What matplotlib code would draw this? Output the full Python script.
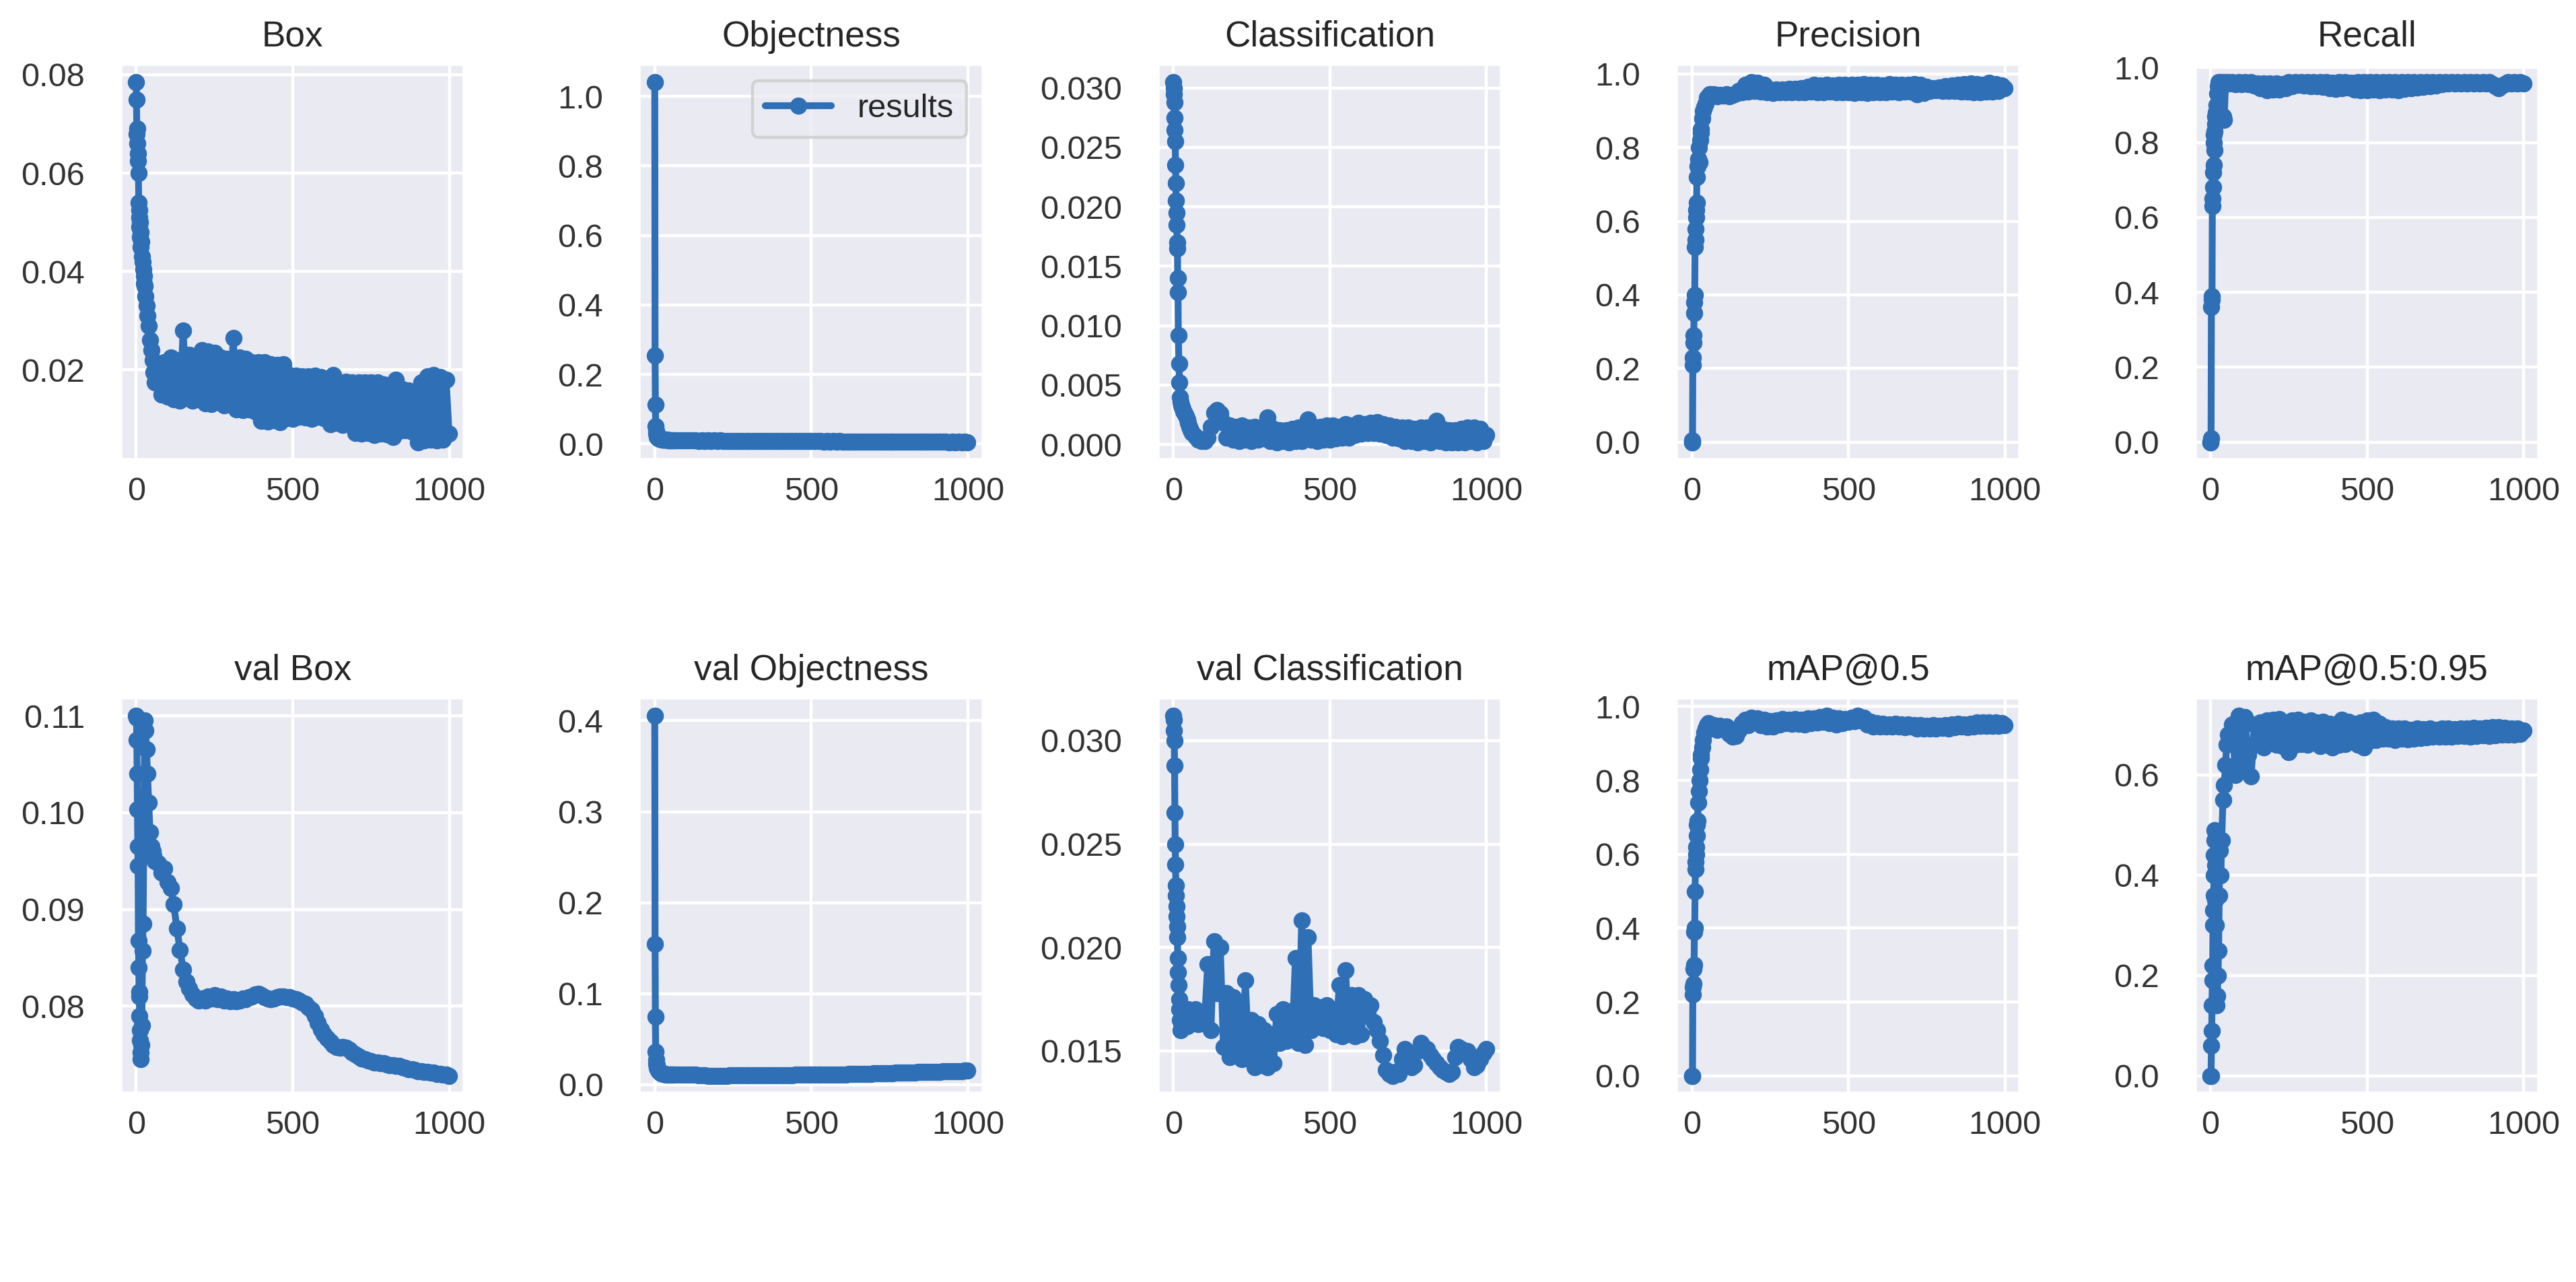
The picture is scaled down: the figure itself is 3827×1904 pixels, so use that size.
import matplotlib
matplotlib.use("Agg")
import matplotlib.pyplot as plt
import seaborn as sns

sns.set_theme(style="darkgrid")
plt.rcParams['font.family'] = ['Liberation Sans', 'DejaVu Sans']

# ---------------- data ----------------
titles = ["Box", "Objectness", "Classification", "Precision", "Recall",
          "val Box", "val Objectness", "val Classification", "mAP@0.5", "mAP@0.5:0.95"]

epochs_early = [0, 1, 2, 3, 4, 5, 6, 7, 8, 9, 10, 11, 12, 13, 14, 15, 16,
                18, 20, 22, 24, 26, 28, 30, 33, 36, 40, 44, 48, 52, 56, 60]
epochs_late = [70, 80, 90, 100,
               110, 120, 130, 140, 150, 160, 170, 180, 190, 200,
               210, 220, 230, 240, 250, 260, 270, 280, 290, 300,
               310, 320, 330, 340, 350, 360, 370, 380, 390, 400,
               410, 420, 430, 440, 450, 460, 470, 480, 490, 500,
               510, 520, 530, 540, 550, 560, 570, 580, 590, 600,
               610, 620, 630, 640, 650, 660, 670, 680, 690, 700,
               710, 720, 730, 740, 750, 760, 770, 780, 790, 800,
               810, 820, 830, 840, 850, 860, 870, 880, 890, 900,
               910, 920, 930, 940, 950, 960, 970, 980, 990, 999]

box_early = [0.0785, 0.0750, 0.0680, 0.0690, 0.0660, 0.0625, 0.0640, 0.0600, 0.0540, 0.0525,
             0.0510, 0.0490, 0.0500, 0.0470, 0.0480, 0.0450, 0.0460, 0.0430, 0.0420, 0.0405,
             0.0390, 0.0375, 0.0370, 0.0350, 0.0330, 0.0310, 0.0290, 0.0260, 0.0240, 0.0220,
             0.0195, 0.0175]
box_late = [0.0205, 0.0150, 0.0215, 0.0145,
            0.0225, 0.0140, 0.0220, 0.0138, 0.0280, 0.0145, 0.0230, 0.0138, 0.0228, 0.0140,
            0.0240, 0.0132, 0.0238, 0.0130, 0.0235, 0.0135, 0.0225, 0.0128, 0.0222, 0.0130,
            0.0265, 0.0120, 0.0225, 0.0118, 0.0222, 0.0120, 0.0215, 0.0115, 0.0215, 0.0097,
            0.0215, 0.0095, 0.0212, 0.0098, 0.0210, 0.0093, 0.0212, 0.0102, 0.0190, 0.0100,
            0.0188, 0.0105, 0.0186, 0.0103, 0.0187, 0.0100, 0.0188, 0.0104, 0.0185, 0.0102,
            0.0178, 0.0090, 0.0190, 0.0092, 0.0175, 0.0088, 0.0176, 0.0090, 0.0175, 0.0072,
            0.0174, 0.0070, 0.0175, 0.0072, 0.0174, 0.0068, 0.0175, 0.0070, 0.0170, 0.0069,
            0.0168, 0.0063, 0.0180, 0.0076, 0.0160, 0.0077, 0.0158, 0.0075, 0.0140, 0.0053,
            0.0175, 0.0056, 0.0187, 0.0058, 0.0190, 0.0056, 0.0185, 0.0058, 0.0180, 0.0070]

obj_early = [1.041, 0.255, 0.114, 0.052, 0.038, 0.030, 0.026, 0.023, 0.021, 0.020,
             0.019, 0.018, 0.017, 0.0165, 0.016, 0.0155, 0.015, 0.0145, 0.014, 0.0135,
             0.013, 0.0128, 0.0125, 0.0122, 0.012, 0.0118, 0.0115, 0.0112, 0.011, 0.0108,
             0.0106, 0.0105]
obj_late = [0.0104, 0.0100, 0.0103, 0.0098,
            0.0100, 0.0096, 0.0099, 0.0094, 0.0098, 0.0093, 0.0097, 0.0093, 0.0096, 0.0091,
            0.0095, 0.0091, 0.0094, 0.0089, 0.0093, 0.0088, 0.0092, 0.0088, 0.0091, 0.0086,
            0.0090, 0.0086, 0.0089, 0.0084, 0.0088, 0.0084, 0.0087, 0.0082, 0.0086, 0.0082,
            0.0085, 0.0081, 0.0084, 0.0079, 0.0083, 0.0079, 0.0082, 0.0077, 0.0081, 0.0077,
            0.0080, 0.0076, 0.0079, 0.0074, 0.0078, 0.0074, 0.0077, 0.0072, 0.0076, 0.0072,
            0.0075, 0.0071, 0.0074, 0.0069, 0.0073, 0.0069, 0.0072, 0.0067, 0.0071, 0.0067,
            0.0070, 0.0066, 0.0069, 0.0064, 0.0068, 0.0064, 0.0067, 0.0062, 0.0066, 0.0062,
            0.0065, 0.0061, 0.0064, 0.0059, 0.0063, 0.0059, 0.0062, 0.0057, 0.0061, 0.0057,
            0.0060, 0.0056, 0.0059, 0.0055, 0.0058, 0.0054, 0.0057, 0.0053, 0.0056, 0.0055]

cls_early = [0.0305, 0.0300, 0.0295, 0.0288, 0.0275, 0.0265, 0.0255, 0.0235, 0.0220, 0.0205,
             0.0195, 0.0185, 0.0170, 0.0165, 0.0140, 0.0128, 0.0092, 0.0068, 0.0052, 0.0040,
             0.0036, 0.0033, 0.0031, 0.0030, 0.0028, 0.0026, 0.0024, 0.0021, 0.0018, 0.0015,
             0.0012, 0.0010]
cls_late = [0.0007, 0.0004, 0.0003, 0.0003,
            0.0006, 0.0015, 0.0027, 0.0029, 0.0026, 0.0018, 0.0006, 0.0016, 0.0004, 0.0015,
            0.0003, 0.0016, 0.0004, 0.0014, 0.0003, 0.0015, 0.0004, 0.0014, 0.0005, 0.0023,
            0.0003, 0.0013, 0.0002, 0.0012, 0.0003, 0.0012, 0.0002, 0.0013, 0.0003, 0.0014,
            0.0003, 0.0015, 0.0021, 0.0004, 0.0015, 0.0003, 0.0015, 0.0004, 0.0016, 0.0004,
            0.0016, 0.0005, 0.0015, 0.0006, 0.0017, 0.0006, 0.0016, 0.0008, 0.0018, 0.0009,
            0.0017, 0.0010, 0.0018, 0.0010, 0.0019, 0.0009, 0.0017, 0.0008, 0.0016, 0.0006,
            0.0015, 0.0005, 0.0014, 0.0003, 0.0014, 0.0003, 0.0013, 0.0002, 0.0014, 0.0003,
            0.0014, 0.0002, 0.0015, 0.0020, 0.0003, 0.0013, 0.0002, 0.0012, 0.0002, 0.0012,
            0.0002, 0.0013, 0.0002, 0.0014, 0.0003, 0.0014, 0.0002, 0.0013, 0.0003, 0.0008]

prec_early = [0.0, 0.0, 0.005, 0.21, 0.23, 0.27, 0.29, 0.35, 0.38, 0.40,
              0.53, 0.55, 0.58, 0.61, 0.63, 0.65, 0.72, 0.75, 0.77, 0.80,
              0.76, 0.82, 0.84, 0.85, 0.88, 0.90, 0.91, 0.92, 0.935, 0.94,
              0.945, 0.945]
prec_late = [0.945, 0.940, 0.944, 0.941,
             0.945, 0.940, 0.944, 0.946, 0.955, 0.950, 0.970, 0.952, 0.978, 0.955,
             0.976, 0.952, 0.970, 0.950, 0.958, 0.949, 0.957, 0.950, 0.958, 0.951,
             0.960, 0.950, 0.959, 0.951, 0.962, 0.950, 0.965, 0.952, 0.970, 0.951,
             0.968, 0.950, 0.970, 0.952, 0.969, 0.950, 0.971, 0.951, 0.970, 0.950,
             0.971, 0.949, 0.970, 0.950, 0.972, 0.949, 0.970, 0.951, 0.971, 0.950,
             0.969, 0.951, 0.972, 0.952, 0.970, 0.951, 0.971, 0.953, 0.970, 0.952,
             0.972, 0.945, 0.971, 0.948, 0.965, 0.955, 0.962, 0.956, 0.963, 0.955,
             0.966, 0.954, 0.968, 0.955, 0.970, 0.953, 0.972, 0.952, 0.975, 0.950,
             0.972, 0.951, 0.970, 0.953, 0.976, 0.952, 0.972, 0.955, 0.968, 0.962]

rec_early = [0.0, 0.0, 0.01, 0.36, 0.38, 0.39, 0.63, 0.65, 0.68, 0.72,
             0.74, 0.80, 0.82, 0.83, 0.78, 0.85, 0.87, 0.88, 0.90, 0.93,
             0.95, 0.96, 0.955, 0.96, 0.95, 0.96, 0.87, 0.86, 0.96, 0.958,
             0.96, 0.958]
rec_late = [0.960, 0.955, 0.961, 0.956,
            0.960, 0.955, 0.960, 0.952, 0.958, 0.945, 0.958, 0.940, 0.957, 0.941,
            0.958, 0.942, 0.956, 0.945, 0.960, 0.950, 0.961, 0.953, 0.960, 0.952,
            0.961, 0.950, 0.960, 0.951, 0.961, 0.948, 0.960, 0.944, 0.959, 0.943,
            0.960, 0.945, 0.961, 0.946, 0.959, 0.941, 0.960, 0.940, 0.961, 0.940,
            0.960, 0.941, 0.961, 0.940, 0.960, 0.941, 0.961, 0.942, 0.960, 0.940,
            0.961, 0.943, 0.960, 0.945, 0.961, 0.946, 0.960, 0.948, 0.961, 0.950,
            0.960, 0.952, 0.961, 0.955, 0.960, 0.957, 0.961, 0.958, 0.960, 0.957,
            0.961, 0.958, 0.960, 0.957, 0.961, 0.958, 0.960, 0.957, 0.961, 0.955,
            0.950, 0.945, 0.952, 0.956, 0.960, 0.957, 0.961, 0.958, 0.960, 0.958]

vbox_early = [0.1100, 0.1098, 0.1075, 0.1040, 0.1003, 0.0965, 0.0945, 0.0868, 0.0840, 0.0815,
              0.0810, 0.0790, 0.0775, 0.0765, 0.0752, 0.0745, 0.0760, 0.0780, 0.0857, 0.0885,
              0.0970, 0.1040, 0.1095, 0.1085, 0.1065, 0.1040, 0.1010, 0.0980, 0.0965, 0.0960,
              0.0955, 0.0950]
vbox_late = [0.0948, 0.0938, 0.0942, 0.0928,
             0.0922, 0.0905, 0.0880, 0.0858, 0.0838, 0.0825, 0.0818, 0.0812, 0.0808, 0.0806,
             0.0808, 0.0806, 0.0810, 0.0808, 0.0811, 0.0807, 0.0810, 0.0806, 0.0808, 0.0805,
             0.0807, 0.0805, 0.0806, 0.0808, 0.0807, 0.0809, 0.0810, 0.0812, 0.0813, 0.0811,
             0.0809, 0.0808, 0.0807, 0.0808, 0.0809, 0.0810, 0.0810, 0.0809, 0.0809, 0.0808,
             0.0807, 0.0806, 0.0804, 0.0802, 0.0799, 0.0796, 0.0790, 0.0783, 0.0776, 0.0771,
             0.0767, 0.0763, 0.0760, 0.0758, 0.0757, 0.0758, 0.0757, 0.0755, 0.0752, 0.0750,
             0.0748, 0.0746, 0.0745, 0.0744, 0.0743, 0.0742, 0.0742, 0.0741, 0.0741, 0.0740,
             0.0739, 0.0739, 0.0738, 0.0738, 0.0737, 0.0736, 0.0735, 0.0735, 0.0734, 0.0733,
             0.0733, 0.0732, 0.0732, 0.0731, 0.0731, 0.0730, 0.0730, 0.0729, 0.0729, 0.0728]

vobj_early = [0.4055, 0.1545, 0.0745, 0.0360, 0.0270, 0.0230, 0.0210, 0.0195, 0.0185, 0.0175,
              0.0168, 0.0160, 0.0155, 0.0150, 0.0145, 0.0140, 0.0137, 0.0132, 0.0128, 0.0125,
              0.0122, 0.0120, 0.0118, 0.0117, 0.0115, 0.0113, 0.0112, 0.0111, 0.0110, 0.0110,
              0.0109, 0.0109]
vobj_late = [0.0108, 0.0107, 0.0108, 0.0110,
             0.0112, 0.0113, 0.0110, 0.0104, 0.0100, 0.0099, 0.0098, 0.0098, 0.0097, 0.0098,
             0.0097, 0.0098, 0.0098, 0.0099, 0.0099, 0.0100, 0.0100, 0.0100, 0.0101, 0.0101,
             0.0102, 0.0102, 0.0103, 0.0103, 0.0103, 0.0104, 0.0104, 0.0104, 0.0105, 0.0105,
             0.0105, 0.0106, 0.0106, 0.0106, 0.0107, 0.0107, 0.0107, 0.0108, 0.0108, 0.0108,
             0.0109, 0.0109, 0.0110, 0.0110, 0.0110, 0.0111, 0.0111, 0.0112, 0.0112, 0.0113,
             0.0113, 0.0114, 0.0115, 0.0116, 0.0117, 0.0118, 0.0119, 0.0120, 0.0121, 0.0122,
             0.0123, 0.0124, 0.0125, 0.0126, 0.0127, 0.0128, 0.0129, 0.0130, 0.0131, 0.0132,
             0.0133, 0.0134, 0.0135, 0.0136, 0.0137, 0.0138, 0.0139, 0.0140, 0.0141, 0.0142,
             0.0143, 0.0144, 0.0145, 0.0146, 0.0147, 0.0148, 0.0149, 0.0150, 0.0151, 0.0152]

vcls_early = [0.0312, 0.0310, 0.0305, 0.0300, 0.0288, 0.0265, 0.0250, 0.0240, 0.0230, 0.0225,
              0.0220, 0.0215, 0.0210, 0.0205, 0.0195, 0.0188, 0.0182, 0.0175, 0.0170, 0.0165,
              0.0160, 0.0163, 0.0168, 0.0165, 0.0170, 0.0163, 0.0168, 0.0162, 0.0170, 0.0164,
              0.0168, 0.0165]
vcls_late = [0.0170, 0.0163, 0.0168, 0.0165,
             0.0192, 0.0160, 0.0203, 0.0178, 0.0200, 0.0152, 0.0178, 0.0147, 0.0176, 0.0148,
             0.0172, 0.0146, 0.0184, 0.0150, 0.0165, 0.0142, 0.0163, 0.0143, 0.0160, 0.0142,
             0.0158, 0.0144, 0.0168, 0.0154, 0.0170, 0.0155, 0.0169, 0.0156, 0.0195, 0.0154,
             0.0213, 0.0153, 0.0205, 0.0160, 0.0172, 0.0162, 0.0171, 0.0161, 0.0172, 0.0160,
             0.0170, 0.0158, 0.0182, 0.0157, 0.0189, 0.0158, 0.0177, 0.0157, 0.0177, 0.0158,
             0.0175, 0.0168, 0.0172, 0.0164, 0.0160, 0.0155, 0.0148, 0.0141, 0.0139, 0.0138,
             0.0140, 0.0139, 0.0146, 0.0151, 0.0148, 0.0142, 0.0143, 0.0150, 0.0154, 0.0152,
             0.0151, 0.0148, 0.0146, 0.0144, 0.0142, 0.0141, 0.0140, 0.0139, 0.0140, 0.0147,
             0.0152, 0.0151, 0.0150, 0.0150, 0.0146, 0.0142, 0.0143, 0.0146, 0.0149, 0.0151]

map50_early = [0.0, 0.0, 0.0, 0.22, 0.24, 0.25, 0.29, 0.30, 0.39, 0.40,
               0.50, 0.56, 0.58, 0.60, 0.62, 0.65, 0.68, 0.69, 0.74, 0.77,
               0.80, 0.83, 0.86, 0.87, 0.89, 0.91, 0.93, 0.94, 0.95, 0.955,
               0.95, 0.948]
map50_late = [0.950, 0.936, 0.948, 0.938,
              0.945, 0.925, 0.918, 0.920, 0.935, 0.955, 0.965, 0.950, 0.970, 0.958,
              0.968, 0.950, 0.965, 0.946, 0.960, 0.945, 0.962, 0.952, 0.966, 0.955,
              0.965, 0.954, 0.966, 0.953, 0.964, 0.952, 0.967, 0.955, 0.968, 0.956,
              0.972, 0.958, 0.975, 0.955, 0.970, 0.952, 0.968, 0.955, 0.966, 0.958,
              0.970, 0.960, 0.975, 0.962, 0.970, 0.952, 0.958, 0.946, 0.955, 0.945,
              0.953, 0.946, 0.952, 0.945, 0.953, 0.946, 0.952, 0.944, 0.951, 0.945,
              0.950, 0.941, 0.950, 0.940, 0.948, 0.941, 0.949, 0.940, 0.948, 0.942,
              0.950, 0.941, 0.951, 0.944, 0.953, 0.945, 0.952, 0.944, 0.953, 0.946,
              0.956, 0.947, 0.957, 0.948, 0.956, 0.947, 0.957, 0.948, 0.955, 0.949]

map95_early = [0.0, 0.0, 0.0, 0.06, 0.09, 0.14, 0.19, 0.22, 0.30, 0.33,
               0.36, 0.40, 0.44, 0.49, 0.47, 0.42, 0.35, 0.30, 0.14, 0.16,
               0.20, 0.25, 0.36, 0.45, 0.40, 0.47, 0.55, 0.58, 0.62, 0.66,
               0.68, 0.67]
map95_late = [0.700, 0.600, 0.718, 0.620,
              0.715, 0.640, 0.597, 0.700, 0.660, 0.705, 0.655, 0.708, 0.665, 0.710,
              0.660, 0.712, 0.658, 0.705, 0.645, 0.708, 0.660, 0.710, 0.662, 0.706,
              0.660, 0.708, 0.665, 0.705, 0.658, 0.706, 0.660, 0.702, 0.655, 0.700,
              0.660, 0.710, 0.662, 0.706, 0.668, 0.702, 0.660, 0.705, 0.655, 0.708,
              0.668, 0.710, 0.670, 0.702, 0.672, 0.695, 0.672, 0.693, 0.670, 0.692,
              0.673, 0.692, 0.671, 0.690, 0.673, 0.692, 0.674, 0.691, 0.675, 0.692,
              0.676, 0.690, 0.677, 0.692, 0.676, 0.693, 0.677, 0.691, 0.678, 0.693,
              0.678, 0.692, 0.677, 0.694, 0.678, 0.693, 0.679, 0.694, 0.678, 0.695,
              0.679, 0.695, 0.680, 0.694, 0.680, 0.693, 0.681, 0.692, 0.682, 0.688]

yticks = [[0.02, 0.04, 0.06, 0.08],
          [0.0, 0.2, 0.4, 0.6, 0.8, 1.0],
          [0.000, 0.005, 0.010, 0.015, 0.020, 0.025, 0.030],
          [0.0, 0.2, 0.4, 0.6, 0.8, 1.0],
          [0.0, 0.2, 0.4, 0.6, 0.8, 1.0],
          [0.08, 0.09, 0.10, 0.11],
          [0.0, 0.1, 0.2, 0.3, 0.4],
          [0.015, 0.020, 0.025, 0.030],
          [0.0, 0.2, 0.4, 0.6, 0.8, 1.0],
          [0.0, 0.2, 0.4, 0.6]]
xticks = [0, 500, 1000]

# ---------------- plot ----------------
epochs = epochs_early + epochs_late
series = [box_early + box_late, obj_early + obj_late, cls_early + cls_late,
          prec_early + prec_late, rec_early + rec_late,
          vbox_early + vbox_late, vobj_early + vobj_late, vcls_early + vcls_late,
          map50_early + map50_late, map95_early + map95_late]

COLOR = "#2f6fb6"
W, H, DPI = 3827, 1904, 319
fig, axes = plt.subplots(2, 5, figsize=(W / DPI, H / DPI), dpi=DPI)
fig.subplots_adjust(left=0.0468, right=0.9856, top=0.950, bottom=0.1468,
                    wspace=0.507, hspace=0.60)

for ax, title, ys, yt in zip(axes.ravel(), titles, series, yticks):
    ax.plot(epochs, ys, marker='.', linewidth=2.3, markersize=9.5, color=COLOR,
            label='results')
    ax.set_title(title, fontsize=12, color='#262626')
    ax.set_xticks(xticks)
    ax.set_yticks(yt)
    ax.tick_params(axis='x', labelsize=11, pad=5.5, length=0, labelcolor='#333333')
    ax.tick_params(axis='y', labelsize=11, pad=12, length=0, labelcolor='#333333')
    ax.margins(0.05)

axes[0, 1].legend(loc='upper right', fontsize=11)

fig.savefig("out.png", dpi=DPI)
